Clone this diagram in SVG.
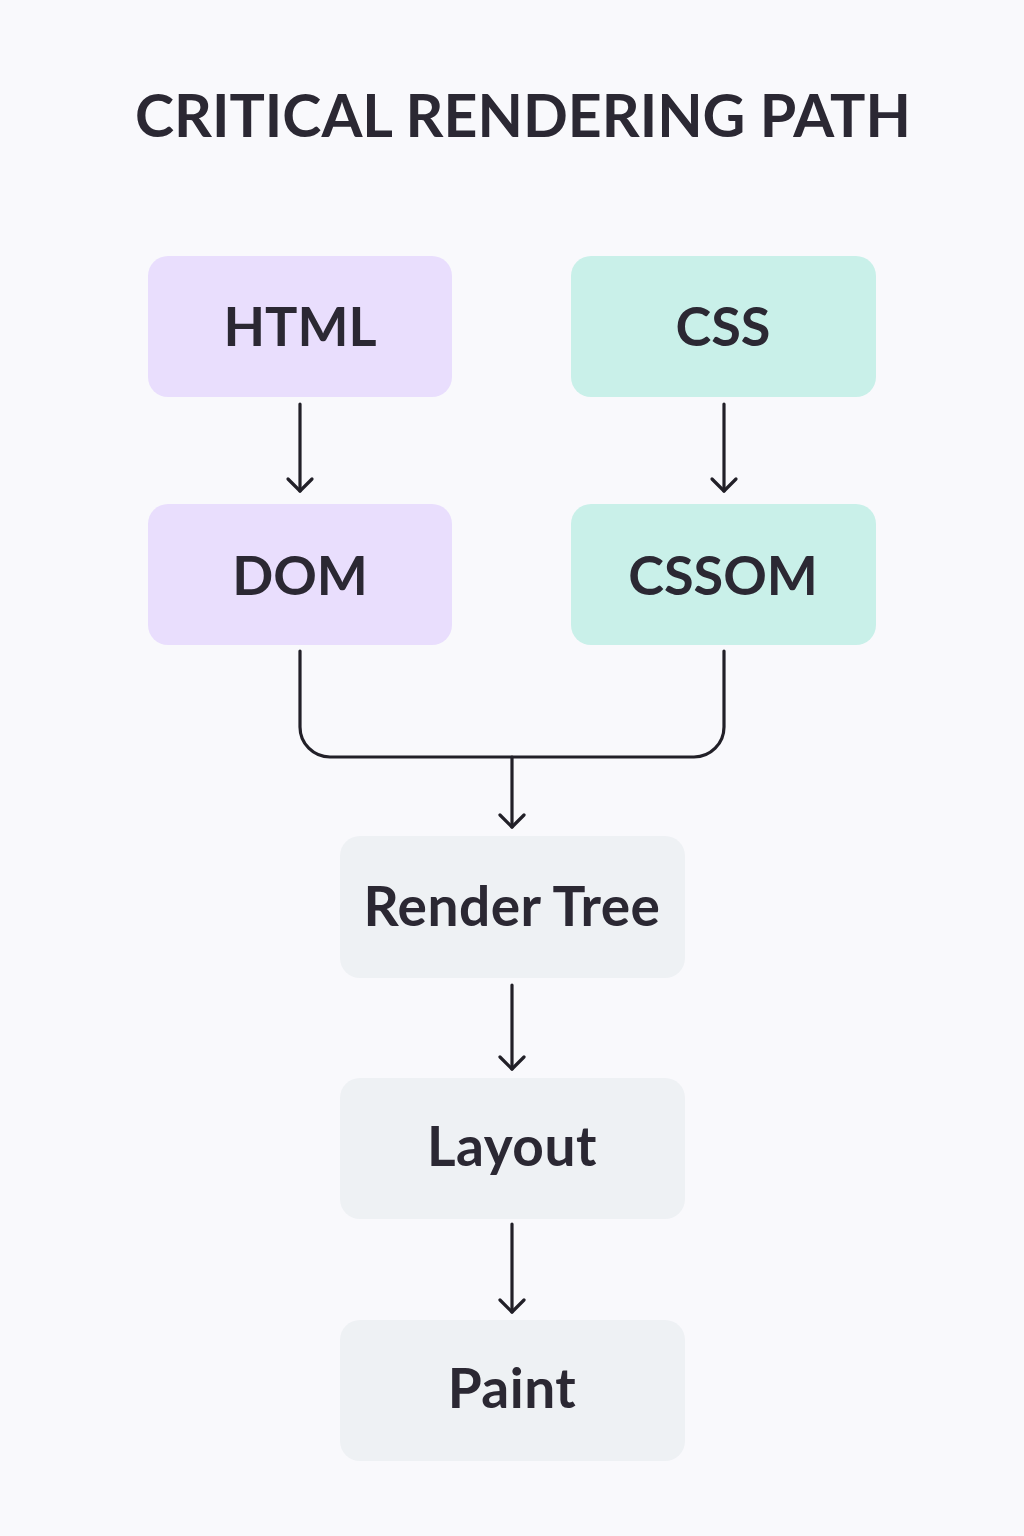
<svg xmlns="http://www.w3.org/2000/svg" width="1024" height="1536" viewBox="0 0 1024 1536">
<defs>
<style>
.t{font-family:Lato,"Liberation Sans",sans-serif;font-weight:700;fill:#2b2833;text-anchor:middle}
.lbl{font-size:54px}
.lbl2{font-size:55px;letter-spacing:0.5px}
.c{fill:none;stroke:#222028;stroke-width:3.2;stroke-linecap:round;stroke-linejoin:round}
</style>
</defs>
<rect width="1024" height="1536" fill="#f9f9fc"/>
<text class="t" x="523" y="137" font-size="59">CRITICAL RENDERING PATH</text>
<g id="html"><rect x="148" y="256" width="304" height="141" rx="20" fill="#e9defd"/><text class="t lbl" x="300" y="346">HTML</text></g>
<g id="css"><rect x="571" y="256" width="305" height="141" rx="20" fill="#c9f0e9"/><text class="t lbl" x="723" y="346">CSS</text></g>
<g id="dom"><rect x="148" y="504" width="304" height="141" rx="20" fill="#e9defd"/><text class="t lbl" x="300" y="595">DOM</text></g>
<g id="cssom"><rect x="571" y="504" width="305" height="141" rx="20" fill="#c9f0e9"/><text class="t lbl" x="723" y="595">CSSOM</text></g>
<g id="render-tree"><rect x="340" y="836" width="345" height="142" rx="20" fill="#eef1f4"/><text class="t lbl2" x="512" y="926">Render Tree</text></g>
<g id="layout"><rect x="340" y="1078" width="345" height="141" rx="20" fill="#eef1f4"/><text class="t lbl2" x="512" y="1166">Layout</text></g>
<g id="paint"><rect x="340" y="1320" width="345" height="141" rx="20" fill="#eef1f4"/><text class="t lbl2" x="512" y="1408">Paint</text></g>
<g id="connectors">
<path class="c" d="M300 404 V491"/><path class="c" d="M288 479 L300 491 L312 479"/>
<path class="c" d="M724 404 V491"/><path class="c" d="M712 479 L724 491 L736 479"/>
<path class="c" d="M300 651 V727 A30 30 0 0 0 330 757 H694 A30 30 0 0 0 724 727 V651"/>
<path class="c" d="M512 757 V827"/><path class="c" d="M500 815 L512 827 L524 815"/>
<path class="c" d="M512 985 V1069"/><path class="c" d="M500 1057 L512 1069 L524 1057"/>
<path class="c" d="M512 1224 V1312"/><path class="c" d="M500 1300 L512 1312 L524 1300"/>
</g>
</svg>
